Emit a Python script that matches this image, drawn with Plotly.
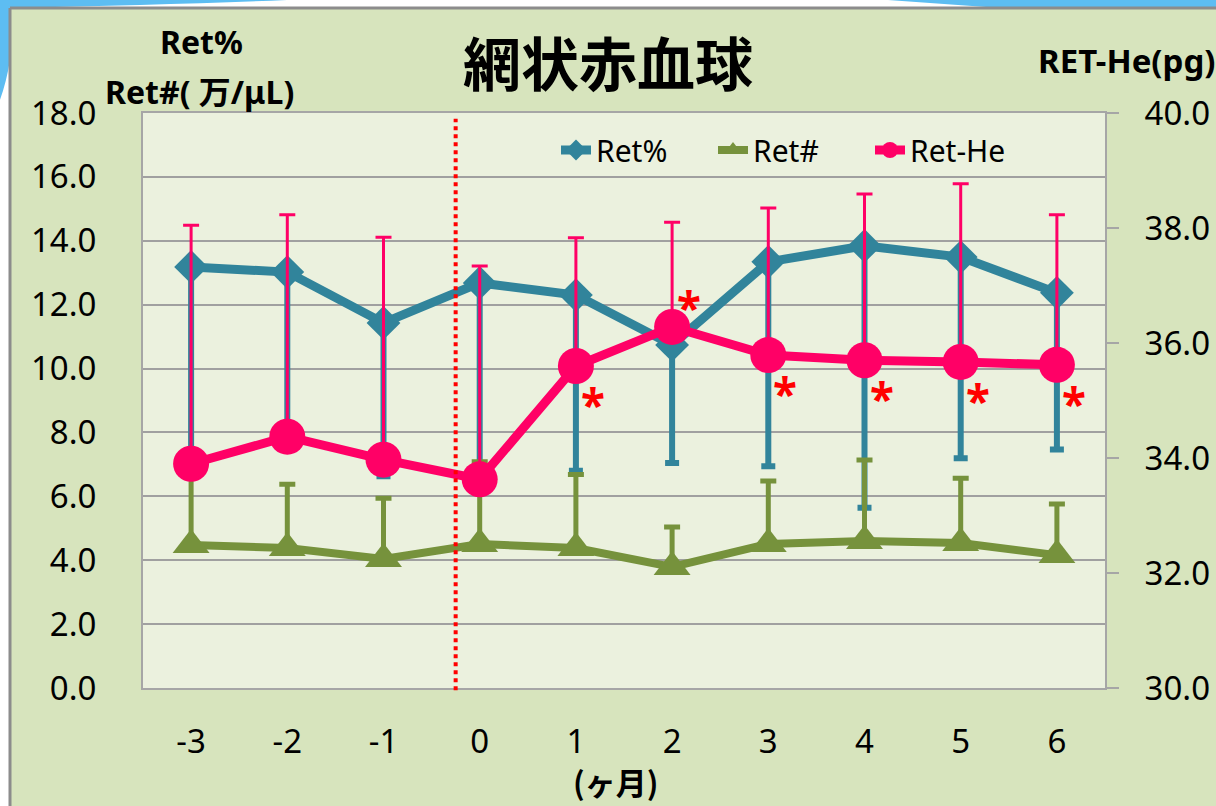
import plotly.graph_objects as go

# ---------------- data ----------------
months = [-3, -2, -1, 0, 1, 2, 3, 4, 5, 6]
month_labels = ["-3", "-2", "-1", "0", "1", "2", "3", "4", "5", "6"]

ret_pct = [13.18, 13.02, 11.43, 12.68, 12.30, 10.74, 13.34, 13.84, 13.49, 12.37]
ret_pct_sd = [6.2, 5.1, 4.8, 5.8, 5.5, 3.7, 6.4, 8.2, 6.3, 4.9]      # drawn downward only

ret_abs = [4.48, 4.38, 4.04, 4.51, 4.38, 3.79, 4.51, 4.60, 4.54, 4.16]
ret_abs_sd = [2.2, 2.0, 1.9, 2.57, 2.3, 1.25, 1.97, 2.54, 2.03, 1.6]  # drawn upward only

ret_he = [33.90, 34.37, 33.97, 33.63, 35.60, 36.28, 35.79, 35.70, 35.67, 35.62]
ret_he_sd = [4.15, 3.86, 3.87, 3.71, 2.23, 1.82, 2.56, 2.89, 3.10, 2.61]  # upward only

signif_months = [1, 2, 3, 4, 5, 6]
signif_above = [False, True, False, False, False, False]

zeros = [0] * len(months)

TEAL = "#31849B"
GREEN = "#76923C"
PINK = "#FF0066"

# ---------------- pixel helpers for layout decoration ----------------
PL, PR, PT, PB = 143, 1105, 113, 688
W, H = PR - PL, PB - PT


def px(x):
    return (x - PL) / W


def py(y):
    return (PB - y) / H


fig = go.Figure()

fig.add_trace(go.Scatter(
    x=months, y=ret_pct, name="Ret%", mode="lines+markers",
    line=dict(color=TEAL, width=9),
    marker=dict(symbol="diamond", size=26, color=TEAL),
    error_y=dict(type="data", symmetric=False, array=zeros, arrayminus=ret_pct_sd,
                 color=TEAL, thickness=6, width=7),
))
fig.add_trace(go.Scatter(
    x=months, y=ret_abs, name="Ret#", mode="lines+markers",
    line=dict(color=GREEN, width=8),
    marker=dict(symbol="triangle-up", size=32, color=GREEN),
    error_y=dict(type="data", symmetric=False, array=ret_abs_sd, arrayminus=zeros,
                 color=GREEN, thickness=5, width=8),
))
fig.add_trace(go.Scatter(
    x=months, y=ret_he, name="Ret-He", mode="lines+markers", yaxis="y2",
    line=dict(color=PINK, width=9),
    marker=dict(symbol="circle", size=36, color=PINK),
    error_y=dict(type="data", symmetric=False, array=ret_he_sd, arrayminus=zeros,
                 color=PINK, thickness=3, width=8),
))

TICKFONT = dict(family="Noto Sans", size=33, color="#000000")
GRID = "#A0A0A0"
AXLINE = "#A6A6A6"

fig.update_layout(
    width=1216, height=806,
    margin=dict(l=PL, r=1216 - PR, t=PT, b=806 - PB, autoexpand=False),
    paper_bgcolor="#D7E4BD",
    plot_bgcolor="#EBF1DE",
    showlegend=True,
    legend=dict(orientation="h", x=px(556), y=py(150), xanchor="left", yanchor="middle",
                bgcolor="rgba(0,0,0,0)", font=dict(family="Noto Sans", size=30, color="#000"),
                itemsizing="trace", traceorder="normal", entrywidth=112, entrywidthmode="pixels"),
    xaxis=dict(range=[-3.5, 6.5], tickvals=months, ticktext=month_labels, automargin=False,
               showgrid=False, zeroline=False, showline=True, linecolor=AXLINE, linewidth=2,
               mirror=True, ticks="", tickfont=TICKFONT, ticklabelstandoff=23),
    yaxis=dict(range=[0, 18], dtick=2, tickformat=".1f", showgrid=True, gridcolor=GRID,
               gridwidth=2, zeroline=False, showline=True, linecolor=AXLINE, linewidth=2,
               automargin=False, ticks="", tickfont=TICKFONT, ticklabelstandoff=38),
    yaxis2=dict(range=[30, 40], dtick=2, tickformat=".1f", overlaying="y", side="right",
                showgrid=False, zeroline=False, showline=True, linecolor=AXLINE, linewidth=2,
                automargin=False, ticks="outside", ticklen=12, tickwidth=2, tickcolor=AXLINE,
                tickfont=TICKFONT, ticklabelstandoff=19),
)

BLUE = "#5DBDF2"
shapes = []
# slide frame decoration: white outside, grey border, blue swooshes
shapes.append(dict(type="rect", xref="paper", yref="paper", x0=px(-5), x1=px(1225),
                   y0=py(8), y1=py(-5), fillcolor="#FFFFFF", line=dict(width=0), layer="below"))
shapes.append(dict(type="rect", xref="paper", yref="paper", x0=px(-5), x1=px(10),
                   y0=py(815), y1=py(-5), fillcolor="#FFFFFF", line=dict(width=0), layer="below"))
shapes.append(dict(type="path", xref="paper", yref="paper",
                   path=(f"M{px(-2)},{py(-2)} L{px(335)},{py(-2)} Q{px(200)},{py(4)} {px(10)},{py(8)} "
                         f"L{px(10)},{py(60)} Q{px(6)},{py(85)} {px(-2)},{py(105)} Z"),
                   fillcolor=BLUE, line=dict(width=0), layer="below"))
shapes.append(dict(type="path", xref="paper", yref="paper",
                   path=f"M{px(860)},{py(-2)} L{px(1220)},{py(-2)} L{px(1220)},{py(8)} L{px(1000)},{py(8)} Z",
                   fillcolor=BLUE, line=dict(width=0), layer="below"))
shapes.append(dict(type="line", xref="paper", yref="paper", x0=px(10), x1=px(10),
                   y0=py(8), y1=py(815), line=dict(color="#8C8C8C", width=3), layer="below"))
shapes.append(dict(type="line", xref="paper", yref="paper", x0=px(10), x1=px(1225),
                   y0=py(8), y1=py(8), line=dict(color="#8C8C8C", width=3), layer="below"))
# dotted baseline separator between month -1 and 0
shapes.append(dict(type="line", xref="x", yref="paper", x0=-0.25, x1=-0.25, y0=-0.004, y1=0.99,
                   line=dict(color="#FF0000", width=4, dash="dot"), layer="above"))
fig.update_layout(shapes=shapes)

ann = []
ann.append(dict(text="<b>網状赤血球</b>", xref="paper", yref="paper", x=px(608), y=py(61),
                xanchor="center", yanchor="middle", showarrow=False,
                font=dict(family="Noto Sans CJK JP", size=58, color="#000")))
ann.append(dict(text="<b>Ret%</b>", xref="paper", yref="paper", x=px(201), y=py(42),
                xanchor="center", yanchor="middle", showarrow=False,
                font=dict(family="Noto Sans", size=32, color="#000")))
ann.append(dict(text="<b>Ret#( 万/μL)</b>", xref="paper", yref="paper", x=px(199), y=py(92),
                xanchor="center", yanchor="middle", showarrow=False,
                font=dict(family="Noto Sans, Noto Sans CJK JP", size=32, color="#000")))
ann.append(dict(text="<b>RET-He(pg)</b>", xref="paper", yref="paper", x=px(1036), y=py(61),
                xanchor="left", yanchor="middle", showarrow=False,
                font=dict(family="Noto Sans", size=33, color="#000")))
ann.append(dict(text="<b>(ヶ月)</b>", xref="paper", yref="paper", x=px(615), y=py(781),
                xanchor="center", yanchor="middle", showarrow=False,
                font=dict(family="Noto Sans CJK JP", size=31, color="#000")))

he_by_month = dict(zip(months, ret_he))
AST = 44
for m, above in zip(signif_months, signif_above):
    dy = -30 if above else 28
    ann.append(dict(text="<b>*</b>", x=m, y=he_by_month[m], xref="x", yref="y2",
                    xanchor="center", yanchor="middle", showarrow=False,
                    xshift=17, yshift=-dy - 0.23 * AST,
                    font=dict(family="Noto Sans", size=AST, color="#FF0000")))
fig.update_layout(annotations=ann)

fig.write_html("out.html", config={"displayModeBar": False},
               post_script="document.body.style.margin='0';document.body.style.overflow='hidden';")
